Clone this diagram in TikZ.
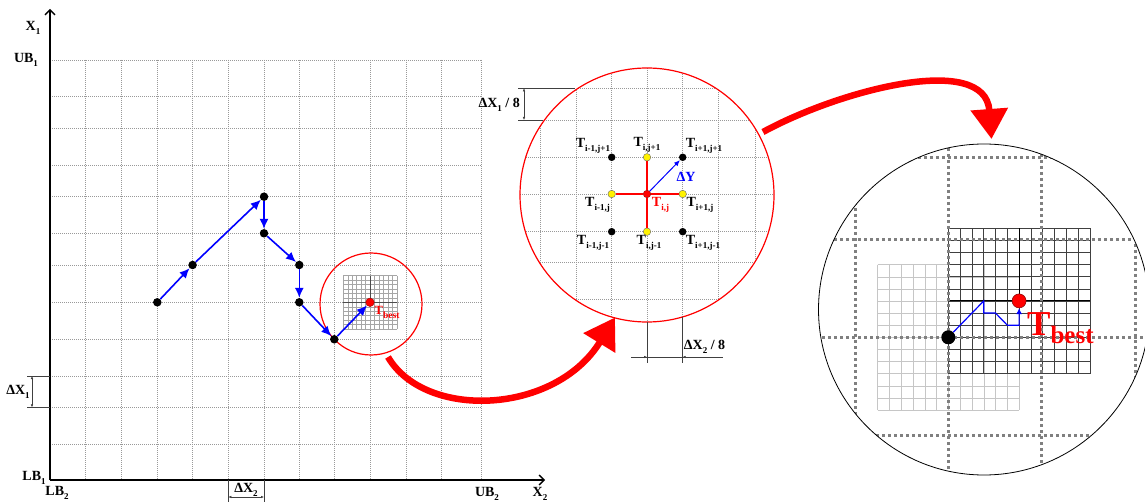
\documentclass[tikz,border=0pt]{standalone}
\usepackage{fontspec}
\setmainfont{Liberation Serif}
\usetikzlibrary{arrows.meta}
\newcommand{\lsub}[1]{\raisebox{-0.28em}{\fontsize{9}{9}\selectfont #1}}
\tikzset{
  gridline/.style={gray!80, line width=0.5pt, dash pattern=on 1pt off 1pt},
  fineline/.style={gray!70, line width=0.4pt},
  darkfine/.style={black!75, line width=0.5pt},
  coarse/.style={black!50, line width=3pt, dash pattern=on 3pt off 3pt},
  axisline/.style={black, line width=1.3pt, -{Straight Barb[length=5pt,width=10pt]}},
  bdot/.style={circle, fill=black, inner sep=0pt, minimum size=8.5pt},
  ydot/.style={circle, fill=yellow, draw=black!60, line width=0.4pt, inner sep=0pt, minimum size=7.5pt},
  rdot/.style={circle, fill=red, draw=red!60!black, line width=0.4pt, inner sep=0pt, minimum size=7.5pt},
  bluearrow/.style={blue, line width=1.6pt, -{Latex[length=10pt,width=9pt]}},
  lab/.style={font=\fontsize{14}{14}\selectfont\bfseries, inner sep=0pt},
  dimline/.style={gray!50!black, line width=0.5pt},
  dimarrow/.style={dimline, {Latex[length=3pt,width=2.5pt]}-{Latex[length=3pt,width=2.5pt]}},
  bigred/.style={red, line width=6.5pt, -{Triangle[length=30pt,width=36pt]}}
}
\begin{document}
\begin{tikzpicture}[x=1pt,y=-1pt]
\useasboundingbox (0,0) rectangle (1145,502);
\fill[white] (0,0) rectangle (1145,502);

% ---------------- left panel grid ----------------
\foreach \x in {85.6,121.2,157.3,192.6,228.3,264,299.3,334.3,370,406,441.7,481}
  \draw[gridline] (\x,60) -- (\x,480);
\foreach \y in {60,96.7,128.3,165.7,196.7,233.3,265,302.3,339.3,376,407.3,444.3}
  \draw[gridline] (50,\y) -- (481,\y);

% axes
\coordinate (O) at (50,480);
\coordinate (ytip) at (50,9);
\coordinate (xtip) at (545,480);
\draw[axisline] (O) -- (ytip);
\draw[axisline] (O) -- (xtip);

\node[lab] (x1) at (33,28) {X\lsub{1}};
\node[lab] (ub1) at (26,60) {UB\lsub{1}};
\node[lab] (lb1) at (34,478) {LB\lsub{1}};
\node[lab] (lb2) at (57,493) {LB\lsub{2}};
\node[lab] (ub2) at (487,494) {UB\lsub{2}};
\node[lab] (x2) at (540,494) {X\lsub{2}};

% dimension dX1
\coordinate (d1a) at (27,376);
\coordinate (d1b) at (27,407.3);
\draw[dimline] (d1a) -- (50,376);
\draw[dimline] (d1b) -- (50,407.3);
\coordinate (d1t) at (32,376);
\coordinate (d1u) at (32,407.3);
\draw[dimarrow] (d1t) -- (d1u);
\node[lab] (dx1) at (18,392) {ΔX\lsub{1}};

% dimension dX2
\draw[dimline] (228.3,480) -- (228.3,502);
\draw[dimline] (264,480) -- (264,502);
\coordinate (d2a) at (228.3,497);
\coordinate (d2b) at (264,497);
\draw[dimarrow] (d2a) -- (d2b);
\node[lab] (dx2) at (246,490) {ΔX\lsub{2}};

% small circle with fine grid
\foreach \i in {-6,...,6} {
  \draw[fineline] ({370+\i*4.45},275.6) -- ({370+\i*4.45},329);
  \draw[fineline] (343.3,{302.3+\i*4.45}) -- (396.7,{302.3+\i*4.45});
}
\draw[black!70, line width=0.6pt] (343.3,302.3) -- (396.7,302.3);
\draw[black!70, line width=0.6pt] (370,275.6) -- (370,302.3);
\node[circle, draw=red, line width=1.2pt, minimum size=102pt, inner sep=0pt] (smallc) at (371,304) {};

% search path
\node[bdot] (p0) at (157.3,302.3) {};
\node[bdot] (p1) at (192.6,265) {};
\node[bdot] (p2) at (264,196.7) {};
\node[bdot] (p3) at (264,233.3) {};
\node[bdot] (p4) at (299.3,265) {};
\node[bdot] (p5) at (299.3,302.3) {};
\node[bdot] (p6) at (334.3,339.3) {};
\node[rdot, minimum size=8.5pt] (tb) at (370,302.3) {};
\draw[bluearrow] (p0) -- (p1);
\draw[bluearrow] (p1) -- (p2);
\draw[bluearrow] (p2) -- (p3);
\draw[bluearrow] (p3) -- (p4);
\draw[bluearrow] (p4) -- (p5);
\draw[bluearrow] (p5) -- (p6);
\draw[bluearrow] (p6) -- (tb);
\node[anchor=base west, inner sep=0pt, red, font=\fontsize{12.5}{13}\selectfont\bfseries] (tbl) at (374.5,315)
  {T\raisebox{-3.3pt}{\fontsize{9.6}{10}\selectfont best}};

% ---------------- middle circle ----------------
\begin{scope}
  \clip (647,195) circle[radius=127pt];
  \foreach \x in {505,540.5,576.7,611.7,647,682.7,718.3,755,790}
    \draw[gridline] (\x,60) -- (\x,330);
  \foreach \y in {52,88.3,120,157.3,194,231.7,262.7,299.3,336}
    \draw[gridline] (510,\y) -- (785,\y);
\end{scope}
\node[circle, draw=red, line width=1.2pt, minimum size=254pt, inner sep=0pt] (midc) at (647,195) {};

\node[bdot, minimum size=7.5pt] (tll) at (611.7,157.3) {};
\node[ydot] (ttop) at (647,157.3) {};
\node[bdot, minimum size=7.5pt] (trr) at (682.7,157.3) {};
\node[ydot] (tl) at (611.7,194) {};
\node[rdot] (tc) at (647,194) {};
\node[ydot] (tr) at (682.7,194) {};
\node[bdot, minimum size=7.5pt] (bll) at (611.7,231.7) {};
\node[ydot] (tbot) at (647,231.7) {};
\node[bdot, minimum size=7.5pt] (brr) at (682.7,231.7) {};
\draw[red, line width=1.3pt] (tc) -- (tl);
\draw[red, line width=1.3pt] (tc) -- (tr);
\draw[red, line width=1.3pt] (tc) -- (ttop);
\draw[red, line width=1.3pt] (tc) -- (tbot);
\draw[blue, line width=1pt, -{Latex[length=6pt,width=5pt]}] (tc) -- (trr);

\node[lab] (l1) at (593,146) {T\lsub{i-1,j+1}};
\node[lab] (l2) at (647,145) {T\lsub{i,j+1}};
\node[lab] (l3) at (704,146) {T\lsub{i+1,j+1}};
\node[lab] (l4) at (597.5,205) {T\lsub{i-1,j}};
\node[lab, red] (l5) at (660.5,205) {T\lsub{i,j}};
\node[lab] (l6) at (700,205) {T\lsub{i+1,j}};
\node[lab] (l7) at (593,243) {T\lsub{i-1,j-1}};
\node[lab] (l8) at (649,243) {T\lsub{i,j-1}};
\node[lab] (l9) at (703,243) {T\lsub{i+1,j-1}};
\node[lab, blue] (dy) at (686,177) {ΔY};

% dimension dX1/8
\draw[dimline] (518,88.3) -- (575,88.3);
\draw[dimline] (518,120) -- (543,120);
\coordinate (e1) at (524,88.3);
\coordinate (e2) at (524,120);
\draw[dimarrow] (e1) -- (e2);
\node[lab, anchor=east] (dx18) at (520,105) {ΔX\lsub{1} / 8};

% dimension dX2/8
\draw[dimline] (647,322) -- (647,363);
\draw[dimline] (682.7,317) -- (682.7,363);
\draw[dimline] (631,357) -- (723,357);
\coordinate (f1) at (637,357);
\coordinate (f2) at (647,357);
\coordinate (f3) at (693,357);
\coordinate (f4) at (682.7,357);
\draw[dimline, -{Latex[length=3pt,width=2.5pt]}] (f1) -- (f2);
\draw[dimline, -{Latex[length=3pt,width=2.5pt]}] (f3) -- (f4);
\node[lab] (dx28) at (704.5,347) {ΔX\lsub{2} / 8};

% ---------------- right circle ----------------
\begin{scope}
  \clip (984,309.5) circle[radius=165.5pt];
  % light fine grid
  \foreach \i in {0,...,12} {
    \draw[fineline, gray!45] ({877.5+\i*11.8},264.7) -- ({877.5+\i*11.8},409.9);
    \draw[fineline, gray!45] (877.5,{264.7+\i*12.1}) -- (1019.1,{264.7+\i*12.1});
  }
  % dark fine grid
  \foreach \i in {0,...,12} {
    \draw[darkfine] ({948.3+\i*11.8},228.3) -- ({948.3+\i*11.8},373.5);
    \draw[darkfine] (948.3,{228.3+\i*12.1}) -- (1089.9,{228.3+\i*12.1});
  }
  \draw[black, line width=1pt] (948.3,300.9) -- (1089.9,300.9);
  \draw[black, line width=1pt] (1019.1,228.3) -- (1019.1,300.9);
  % coarse dotted grid
  \foreach \x in {855.7,948.3,1041.7,1135}
    \draw[coarse] (\x,130) -- (\x,480);
  \foreach \y in {158,240,337.3,435}
    \draw[coarse] (810,\y) -- (1150,\y);
\end{scope}
\node[circle, draw=black, line width=0.8pt, minimum size=331pt, inner sep=0pt] (bigc) at (984,309.5) {};

\node[circle, fill=black, inner sep=0pt, minimum size=14pt] (start) at (948.3,337.3) {};
\node[circle, fill=red, draw=red!50!black, line width=0.5pt, inner sep=0pt, minimum size=14pt] (best) at (1019.1,300.9) {};
\draw[blue, line width=1.2pt, -{Latex[length=6pt,width=6pt]}]
  (start) -- (983.7,301) -- (983.7,313.1) -- (995.5,313.1) -- (1007.3,325.2) -- (1019.1,325.2) -- (best);
\node[anchor=base west, inner sep=0pt, red, font=\fontsize{35}{36}\selectfont\bfseries] (tbig) at (1027,336)
  {T\raisebox{-7pt}{\fontsize{25}{26}\selectfont best}};

% ---------------- big red arrows ----------------
\coordinate (a1s) at (388,357);
\coordinate (a1e) at (615,317.5);
\draw[bigred] (a1s) .. controls (425,420) and (555,415) .. (a1e);
\coordinate (a2s) at (763,132);
\coordinate (a2e) at (991.5,139);
\draw[bigred] (a2s) .. controls (840,90) and (985,52) .. (a2e);

\end{tikzpicture}
\end{document}
